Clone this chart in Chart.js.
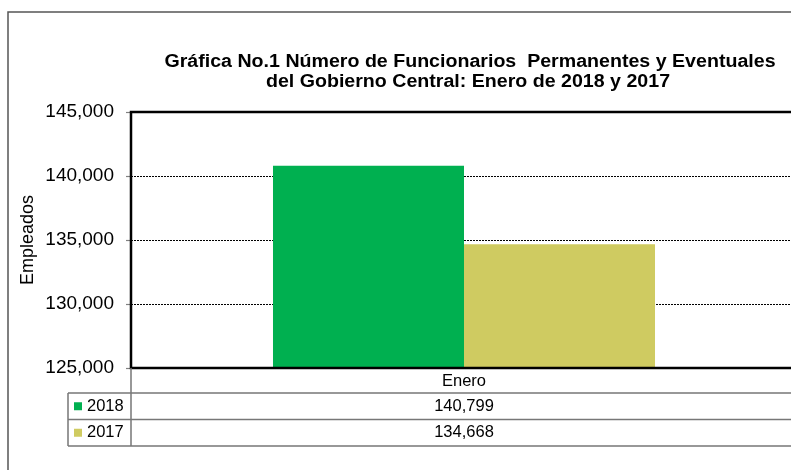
<!DOCTYPE html>
<html>
<head>
<meta charset="utf-8">
<script src="https://cdn.jsdelivr.net/npm/chart.js@4/dist/chart.umd.min.js"></script>
<style>
  body { margin: 0; background: #fff; overflow: hidden; }
  #wrap { width: 791px; height: 470px; overflow: hidden; }
</style>
</head>
<body>
<div id="wrap"><canvas id="chart" width="800" height="470"></canvas></div>
<script>
// ------------------------
// DATA
// ------------------------
const categories = ['Enero'];
const seriesNames = ['2018', '2017'];
const values2018 = [140799];
const values2017 = [134668];
const seriesColors = ['#00b050', '#cfcb61'];
const titleLines = [
  'Gráfica No.1 Número de Funcionarios  Permanentes y Eventuales',
  'del Gobierno Central: Enero de 2018 y 2017'
];
const yMin = 125000, yMax = 145000, yStep = 5000;

const FONT = "'Liberation Sans', Arial, sans-serif";
const fmt = v => v.toLocaleString('en-US');

// ------------------------
// PLUGIN: title, frame, data table
// ------------------------
const decor = {
  id: 'decor',
  beforeDraw(chart) {
    const ctx = chart.ctx;
    ctx.save();
    ctx.fillStyle = '#fff';
    ctx.fillRect(0, 0, chart.width, chart.height);
    // outer chart border (the picture is cropped on the right and bottom)
    ctx.strokeStyle = '#555';
    ctx.lineWidth = 1.5;
    ctx.beginPath();
    ctx.moveTo(8, chart.height + 2);
    ctx.lineTo(8, 12);
    ctx.lineTo(chart.width + 2, 12);
    ctx.stroke();
    ctx.restore();
  },
  afterDraw(chart) {
    const ctx = chart.ctx;
    const a = chart.chartArea;
    const x = chart.scales.x;
    ctx.save();

    // title, slightly stretched like the original
    ctx.fillStyle = '#000';
    ctx.font = 'bold 17.5px ' + FONT;
    ctx.textAlign = 'center';
    ctx.textBaseline = 'middle';
    [[titleLines[0], 470, 62], [titleLines[1], 468, 82]].forEach(([t, tx, ty]) => {
      ctx.save();
      ctx.translate(tx, ty);
      ctx.scale(1.12, 1);
      ctx.fillText(t, 0, 0);
      ctx.restore();
    });

    // plot frame
    ctx.strokeStyle = '#000';
    ctx.lineWidth = 2.5;
    ctx.beginPath();
    ctx.moveTo(chart.width + 2, a.top);
    ctx.lineTo(a.left, a.top);
    ctx.lineTo(a.left, a.bottom);
    ctx.lineTo(chart.width + 2, a.bottom);
    ctx.stroke();

    // data table
    const rowTop = 393, rowH = 26.5, legLeft = 68;
    ctx.strokeStyle = '#777';
    ctx.lineWidth = 1.5;
    ctx.beginPath();
    ctx.moveTo(a.left, a.bottom);
    ctx.lineTo(a.left, rowTop + rowH * seriesNames.length);
    ctx.moveTo(legLeft, rowTop);
    ctx.lineTo(legLeft, rowTop + rowH * seriesNames.length);
    for (let i = 0; i <= seriesNames.length; i++) {
      ctx.moveTo(legLeft, rowTop + rowH * i);
      ctx.lineTo(chart.width + 2, rowTop + rowH * i);
    }
    ctx.stroke();

    ctx.fillStyle = '#000';
    ctx.font = '16.5px ' + FONT;
    categories.forEach((c, i) => {
      ctx.fillText(c, x.getPixelForValue(i), 381);
    });

    const rows = [values2018, values2017];
    seriesNames.forEach((name, r) => {
      const cy = rowTop + rowH * r + rowH / 2;
      ctx.fillStyle = seriesColors[r];
      ctx.fillRect(74, cy - 4, 8, 8);
      ctx.fillStyle = '#000';
      ctx.textAlign = 'left';
      ctx.fillText(name, 87, cy);
      ctx.textAlign = 'center';
      rows[r].forEach((v, i) => ctx.fillText(fmt(v), x.getPixelForValue(i), cy));
    });
    ctx.restore();
  }
};

// ------------------------
// CHART
// ------------------------
new Chart(document.getElementById('chart'), {
  type: 'bar',
  data: {
    labels: categories,
    datasets: [
      { label: seriesNames[0], data: values2018, backgroundColor: seriesColors[0] },
      { label: seriesNames[1], data: values2017, backgroundColor: seriesColors[1] }
    ]
  },
  options: {
    responsive: false,
    animation: false,
    layout: { padding: { top: 112, bottom: 102, left: 14, right: 3 } },
    datasets: { bar: { categoryPercentage: 0.5736, barPercentage: 1, borderWidth: 0 } },
    plugins: { legend: { display: false }, title: { display: false }, tooltip: { enabled: false } },
    scales: {
      x: { display: false, offset: true },
      y: {
        min: yMin, max: yMax,
        afterFit(scale) { scale.width = 131 - 14; },
        ticks: {
          stepSize: yStep,
          color: '#000',
          padding: 12,
          font: { family: FONT, size: 19 },
          callback: v => fmt(v)
        },
        grid: { color: '#000', lineWidth: 1, tickLength: 5, tickColor: '#808080', tickWidth: 1.2 },
        border: { display: false, dash: [2, 1] },
        title: { display: true, text: 'Empleados', color: '#000', font: { family: FONT, size: 18 }, padding: 3 }
      }
    }
  },
  plugins: [decor]
});
</script>
</body>
</html>
